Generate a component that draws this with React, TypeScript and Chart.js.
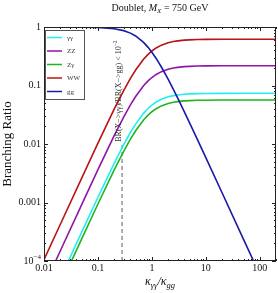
import React, { useEffect, useRef } from "react";
import { Chart, registerables } from "chart.js";

Chart.register(...registerables);

const kappaRatio = [0.01, 0.02, 0.05, 0.1, 0.2, 0.3, 0.4, 0.5, 0.7, 0.85, 1, 1.2, 1.5, 2, 2.5, 3, 4, 5, 7, 10, 20, 50, 100, 200];
const brAA = [0.0000125, 0.00005, 0.000311, 0.00123, 0.00468, 0.00976, 0.01572, 0.0219, 0.0334, 0.0405, 0.0463, 0.0522, 0.0583, 0.0641, 0.0672, 0.069, 0.0709, 0.0718, 0.0727, 0.0731, 0.0734, 0.0735, 0.0735, 0.0735];
const brZZ = [0.000037, 0.000148, 0.00092, 0.00364, 0.01386, 0.0289, 0.04654, 0.0649, 0.0989, 0.12, 0.137, 0.1545, 0.1725, 0.19, 0.1989, 0.204, 0.2099, 0.2126, 0.2151, 0.2164, 0.2173, 0.2176, 0.2176, 0.2176];
const brZA = [0.0000096, 0.0000384, 0.000239, 0.000944, 0.0036, 0.0075, 0.01208, 0.0168, 0.0257, 0.0311, 0.0356, 0.0401, 0.0448, 0.0492, 0.0516, 0.053, 0.0545, 0.0552, 0.0558, 0.0561, 0.0564, 0.0565, 0.0565, 0.0565];
const brWW = [0.000105, 0.00042, 0.00261, 0.01032, 0.0393, 0.082, 0.1321, 0.184, 0.281, 0.3405, 0.389, 0.4385, 0.49, 0.538, 0.5645, 0.58, 0.5957, 0.603, 0.6103, 0.614, 0.617, 0.6176, 0.6176, 0.6176];
const brGG = [1, 0.9993, 0.9958, 0.983, 0.936, 0.867, 0.786, 0.702, 0.546, 0.449, 0.37, 0.29, 0.207, 0.128, 0.086, 0.0613, 0.0355, 0.023, 0.01186, 0.00585, 0.00147, 0.000235, 0.0000588, 0.0000147];

const seriesLabels = ["γγ", "ZZ", "Zγ", "WW", "gg"];
const seriesColors = ["#22eef2", "#9015a8", "#1fb51f", "#b81414", "#1a1aa8"];

const cutX = [0.28, 0.28];
const cutY = [0.0001, 0.0105];

const xTickValues = [0.01, 0.1, 1, 10, 100];
const xTickLabels = ["0.01", "0.1", "1", "10", "100"];
const yTickValues = [1, 0.1, 0.01, 0.001, 0.0001];
const yTickLabels = ["1", "0.1", "0.01", "0.001", "10"];

const SERIF = "'Liberation Serif', 'DejaVu Serif', serif";

type Seg = { t: string; italic?: boolean; size: number; dy?: number };

function segWidth(ctx: CanvasRenderingContext2D, segs: Seg[]) {
  let w = 0;
  for (const s of segs) {
    ctx.font = `${s.italic ? "italic " : ""}${s.size}px ${SERIF}`;
    w += ctx.measureText(s.t).width;
  }
  return w;
}

function drawSegs(ctx: CanvasRenderingContext2D, segs: Seg[], x: number, y: number) {
  let cx = x;
  ctx.textAlign = "left";
  ctx.textBaseline = "alphabetic";
  for (const s of segs) {
    ctx.font = `${s.italic ? "italic " : ""}${s.size}px ${SERIF}`;
    ctx.fillText(s.t, cx, y + (s.dy || 0));
    cx += ctx.measureText(s.t).width;
  }
}

const framePlugin = {
  id: "framePlugin",
  afterDraw(chart: any) {
    const ctx: CanvasRenderingContext2D = chart.ctx;
    const a = chart.chartArea;
    const xs = chart.scales.x;
    const ys = chart.scales.y;
    ctx.save();
    ctx.fillStyle = "#111";
    ctx.strokeStyle = "#222";
    ctx.lineWidth = 1;
    ctx.strokeRect(Math.round(a.left) + 0.5, Math.round(a.top) + 0.5, Math.round(a.right - a.left) - 1, Math.round(a.bottom - a.top) - 1);

    ctx.beginPath();
    for (let e = -2; e <= 2; e++) {
      for (let m = 1; m <= 9; m++) {
        const v = m * Math.pow(10, e);
        if (v > 200.0001) continue;
        const px = Math.round(xs.getPixelForValue(v)) + 0.5;
        const len = m === 1 ? 4 : 2;
        ctx.moveTo(px, a.bottom);
        ctx.lineTo(px, a.bottom - len);
        ctx.moveTo(px, a.top);
        ctx.lineTo(px, a.top + len);
      }
    }
    for (let e = -4; e <= 0; e++) {
      for (let m = 1; m <= 9; m++) {
        const v = m * Math.pow(10, e);
        if (v > 1.0001) continue;
        const py = Math.round(ys.getPixelForValue(v)) + 0.5;
        const len = m === 1 ? 4 : 2;
        ctx.moveTo(a.left, py);
        ctx.lineTo(a.left + len, py);
        ctx.moveTo(a.right, py);
        ctx.lineTo(a.right - len, py);
      }
    }
    ctx.stroke();

    ctx.font = `10px ${SERIF}`;
    ctx.textAlign = "center";
    ctx.textBaseline = "top";
    xTickValues.forEach((v, i) => {
      ctx.fillText(xTickLabels[i], xs.getPixelForValue(v), a.bottom + 2);
    });
    ctx.textAlign = "right";
    ctx.textBaseline = "middle";
    yTickValues.forEach((v, i) => {
      const py = ys.getPixelForValue(v);
      if (i === yTickValues.length - 1) {
        ctx.font = `7px ${SERIF}`;
        const sw = ctx.measureText("−4").width;
        ctx.fillText("−4", a.left - 3, py - 4);
        ctx.font = `10px ${SERIF}`;
        ctx.fillText(yTickLabels[i], a.left - 3 - sw, py);
      } else {
        ctx.font = `10px ${SERIF}`;
        ctx.fillText(yTickLabels[i], a.left - 3, py);
      }
    });

    const title: Seg[] = [
      { t: "Doublet, ", size: 10 },
      { t: "M", italic: true, size: 10 },
      { t: "X", italic: true, size: 7, dy: 2 },
      { t: " = 750 GeV", size: 10 },
    ];
    const tw = segWidth(ctx, title);
    drawSegs(ctx, title, (a.left + a.right) / 2 - tw / 2, 11);

    const xt: Seg[] = [
      { t: "κ", italic: true, size: 12 },
      { t: "γγ", italic: true, size: 8.5, dy: 2.5 },
      { t: "/", italic: true, size: 12 },
      { t: "κ", italic: true, size: 12 },
      { t: "gg", italic: true, size: 8.5, dy: 2.5 },
    ];
    const xw = segWidth(ctx, xt);
    drawSegs(ctx, xt, (a.left + a.right) / 2 - xw / 2, 285);

    ctx.save();
    ctx.translate(11, (a.top + a.bottom) / 2);
    ctx.rotate(-Math.PI / 2);
    ctx.font = `13px ${SERIF}`;
    ctx.textAlign = "center";
    ctx.textBaseline = "alphabetic";
    ctx.fillText("Branching Ratio", 0, 0);
    ctx.restore();

    ctx.save();
    const cx = xs.getPixelForValue(cutX[1]);
    const cy = ys.getPixelForValue(cutY[1]);
    ctx.translate(cx - 1.5, cy - 1);
    ctx.rotate(-Math.PI / 2);
    ctx.fillStyle = "#333";
    const ann: Seg[] = [
      { t: "BR(X−>γγ)/BR(X−>gg) < 10", size: 8 },
      { t: "−2", size: 5.5, dy: -3.5 },
    ];
    drawSegs(ctx, ann, 0, 0);
    ctx.restore();

    const lx = 45, ly = 30, lw = 39, lh = 69;
    ctx.fillStyle = "#fff";
    ctx.fillRect(lx, ly, lw, lh);
    ctx.strokeStyle = "#555";
    ctx.strokeRect(lx + 0.5, ly + 0.5, lw, lh);
    for (let i = 0; i < seriesLabels.length; i++) {
      const yy = 37.5 + 13.5 * i;
      ctx.strokeStyle = seriesColors[i];
      ctx.lineWidth = 1.5;
      ctx.beginPath();
      ctx.moveTo(47, yy);
      ctx.lineTo(62, yy);
      ctx.stroke();
      ctx.fillStyle = "#333";
      ctx.font = `7px ${SERIF}`;
      ctx.textAlign = "left";
      ctx.textBaseline = "middle";
      ctx.fillText(seriesLabels[i], 67, yy + 0.5);
    }
    ctx.restore();
  },
};

export default function App() {
  const ref = useRef<HTMLCanvasElement | null>(null);
  useEffect(() => {
    document.body.style.margin = "0";
    const series = [brAA, brZZ, brZA, brWW, brGG];
    const datasets: any[] = series.map((s, i) => ({
      label: seriesLabels[i],
      data: kappaRatio.map((x, j) => ({ x, y: s[j] })),
      borderColor: seriesColors[i],
      borderWidth: 1.6,
      pointRadius: 0,
      fill: false,
      tension: 0,
      order: series.length - i,
    }));
    datasets.push({
      label: "cut",
      data: cutX.map((x, j) => ({ x, y: cutY[j] })),
      borderColor: "#777",
      borderWidth: 1.2,
      borderDash: [4, 3],
      pointRadius: 0,
      fill: false,
      order: 10,
    });
    const chart = new Chart(ref.current as HTMLCanvasElement, {
      type: "line",
      data: { datasets },
      options: {
        animation: false,
        responsive: false,
        maintainAspectRatio: false,
        layout: { padding: { left: 44, top: 27, right: 2, bottom: 32 } },
        plugins: { legend: { display: false }, tooltip: { enabled: false }, title: { display: false } },
        scales: {
          x: { type: "logarithmic", min: 0.01, max: 200, display: false },
          y: { type: "logarithmic", min: 0.0001, max: 1, display: false },
        },
      },
      plugins: [framePlugin],
    });
    return () => chart.destroy();
  }, []);
  return <canvas ref={ref} width={278} height={293} style={{ display: "block" }} />;
}
